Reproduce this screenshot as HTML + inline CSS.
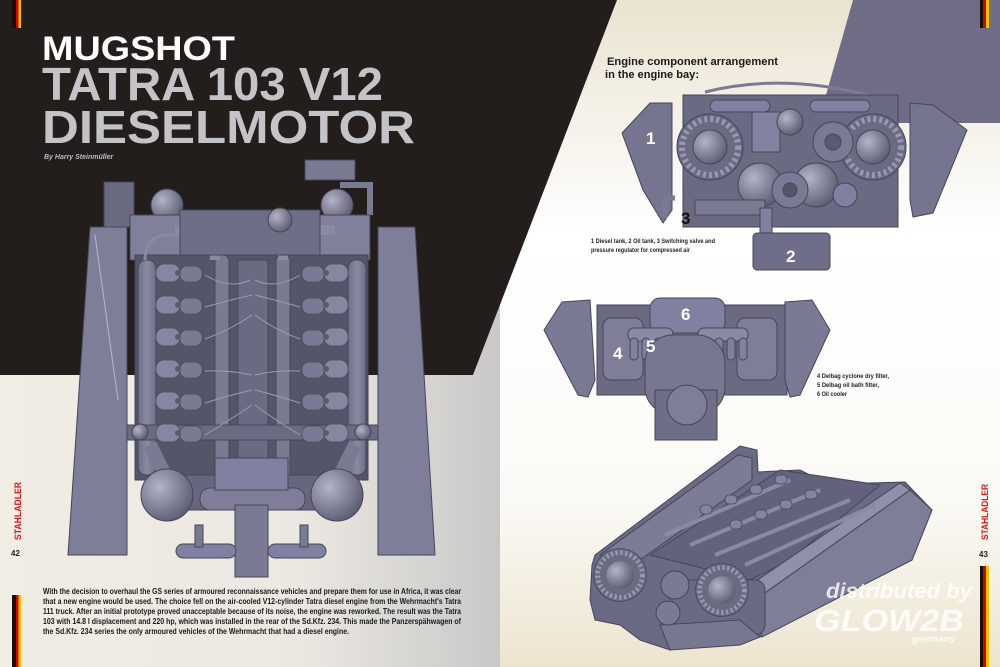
<!DOCTYPE html>
<html><head><meta charset="utf-8"><style>
html,body{margin:0;padding:0;width:1000px;height:667px;overflow:hidden;background:#fff}
svg{display:block}
text{font-family:"Liberation Sans",sans-serif}
</style></head><body>
<svg width="1000" height="667" viewBox="0 0 1000 667" xmlns="http://www.w3.org/2000/svg">
<defs>
<linearGradient id="lp" x1="0" y1="0" x2="1" y2="0">
<stop offset="0" stop-color="#f1ede4"/><stop offset="0.6" stop-color="#ebe8e2"/><stop offset="1" stop-color="#c9c8c6"/></linearGradient>
<linearGradient id="rp" x1="0" y1="0" x2="0" y2="1">
<stop offset="0" stop-color="#ebe3d0"/><stop offset="0.2" stop-color="#f6f3ec"/><stop offset="0.35" stop-color="#ffffff"/><stop offset="0.75" stop-color="#fbfaf6"/><stop offset="1" stop-color="#ede4cf"/></linearGradient>
<radialGradient id="sph" cx="0.35" cy="0.35" r="0.7"><stop offset="0" stop-color="#b4b4c8"/><stop offset="1" stop-color="#5c5c72"/></radialGradient>
<linearGradient id="eng" x1="0" y1="0" x2="1" y2="0"><stop offset="0" stop-color="#6e6e86"/><stop offset="0.5" stop-color="#8a8aa2"/><stop offset="1" stop-color="#6e6e86"/></linearGradient>
<g id="cyl"><rect x="0" y="0" width="24" height="18" rx="8" fill="#8686a0" stroke="#4c4c60" stroke-width="0.8"/><rect x="24" y="2" width="22" height="16" rx="7" fill="#7a7a94" stroke="#4c4c60" stroke-width="0.8"/><circle cx="22" cy="9" r="3" fill="#5a5a70"/></g>
<g id="fan"><circle r="33" fill="#6a6a82" stroke="#44445a" stroke-width="1"/><circle r="28" fill="none" stroke="#9898b0" stroke-width="6" stroke-dasharray="3 3"/><circle r="17" fill="url(#sph)"/></g>
</defs>

<rect x="0" y="0" width="500" height="667" fill="url(#lp)"/>
<rect x="500" y="0" width="500" height="667" fill="url(#rp)"/>
<polygon points="0,0 617,0 473,375 0,375" fill="#231d1b"/>
<polygon points="853,0 1000,0 1000,123 818,123" fill="#6f6d86"/>

<rect x="12" y="0" width="4" height="28" fill="#111"/><rect x="16" y="0" width="2.5" height="28" fill="#d00"/><rect x="18.5" y="0" width="2.5" height="28" fill="#f2c400"/>
<rect x="12" y="595" width="4" height="72" fill="#111"/><rect x="16" y="595" width="2.5" height="72" fill="#d00"/><rect x="18.5" y="595" width="2.5" height="72" fill="#f2c400"/>
<rect x="980" y="0" width="3" height="28" fill="#111"/><rect x="983" y="0" width="3" height="28" fill="#d00"/><rect x="986" y="0" width="3" height="28" fill="#f2c400"/>
<rect x="980" y="566" width="3" height="101" fill="#111"/><rect x="983" y="566" width="3" height="101" fill="#d00"/><rect x="986" y="566" width="3" height="101" fill="#f2c400"/>

<text transform="translate(21,540) rotate(-90)" font-size="9" font-weight="bold" fill="#d81818" textLength="58" lengthAdjust="spacingAndGlyphs">STAHLADLER</text>
<text x="11" y="556" font-size="8" font-weight="bold" fill="#222">42</text>
<text transform="translate(988,540) rotate(-90)" font-size="9" font-weight="bold" fill="#d81818" textLength="56" lengthAdjust="spacingAndGlyphs">STAHLADLER</text>
<text x="979" y="557" font-size="8" font-weight="bold" fill="#222">43</text>

<text x="42" y="60" font-size="34" font-weight="bold" fill="#fff" textLength="193" lengthAdjust="spacingAndGlyphs">MUGSHOT</text>
<text x="42" y="100" font-size="46" font-weight="bold" fill="#c4c4c8" textLength="341" lengthAdjust="spacingAndGlyphs">TATRA 103 V12</text>
<text x="42" y="143" font-size="46" font-weight="bold" fill="#c4c4c8" textLength="373" lengthAdjust="spacingAndGlyphs">DIESELMOTOR</text>
<text x="44" y="159" font-size="7" font-style="italic" font-weight="bold" fill="#bbb">By Harry Steinmüller</text>

<g stroke="#45455a" stroke-width="1">
<rect x="104" y="182" width="30" height="45" fill="#6a6a80"/>
<rect x="305" y="160" width="50" height="20" fill="#7a7a92"/>
<path d="M340 185 h30 v30" fill="none" stroke="#7a7a92" stroke-width="6"/>
<circle cx="167" cy="205" r="16" fill="url(#sph)"/>
<circle cx="337" cy="205" r="16" fill="url(#sph)"/>
<rect x="130" y="215" width="240" height="45" fill="#80809a"/>
<rect x="135" y="255" width="233" height="225" fill="#55556a"/>
<polygon points="90,227 127,227 127,555 68,555" fill="#7e7e98"/>
<polygon points="378,227 415,227 435,555 378,555" fill="#7e7e98"/>
<line x1="95" y1="235" x2="118" y2="400" stroke="#b8b8cc" stroke-width="1"/>
<rect x="138" y="260" width="18" height="215" rx="8" fill="url(#eng)"/>
<rect x="348" y="260" width="18" height="215" rx="8" fill="url(#eng)"/>
<rect x="215" y="255" width="14" height="225" rx="6" fill="#7a7a92"/>
<rect x="276" y="255" width="14" height="225" rx="6" fill="#7a7a92"/>
<rect x="238" y="260" width="30" height="215" fill="#6a6a82"/>
<path d="M145 260 q0 -25 25 -25 h40" fill="none" stroke="#8a8aa2" stroke-width="3"/>
<path d="M215 260 q0 -30 -40 -30" fill="none" stroke="#8a8aa2" stroke-width="10"/>
<path d="M283 260 q0 -30 40 -30 h12" fill="none" stroke="#8a8aa2" stroke-width="10"/>
<rect x="180" y="210" width="140" height="45" fill="#6e6e86"/>
<circle cx="280" cy="220" r="12" fill="url(#sph)"/>
<rect x="127" y="425" width="251" height="15" fill="#6a6a82"/>
<circle cx="140" cy="432" r="8" fill="url(#sph)"/><circle cx="363" cy="432" r="8" fill="url(#sph)"/>
<rect x="150" y="475" width="205" height="35" fill="#66667e"/>
<path d="M150 445 l20 40" stroke="#7a7a92" stroke-width="14"/>
<path d="M355 445 l-20 40" stroke="#7a7a92" stroke-width="14"/>
<circle cx="167" cy="495" r="26" fill="url(#sph)"/>
<circle cx="337" cy="495" r="26" fill="url(#sph)"/>
<rect x="200" y="488" width="105" height="22" rx="10" fill="#7e7e98"/>
<rect x="215" y="458" width="73" height="32" fill="#8080a0"/>
<rect x="235" y="505" width="33" height="72" fill="#7a7a94"/>
<rect x="176" y="544" width="60" height="14" rx="7" fill="#8080a0"/>
<rect x="268" y="544" width="58" height="14" rx="7" fill="#8080a0"/>
<rect x="195" y="525" width="8" height="22" fill="#7a7a92"/><rect x="300" y="525" width="8" height="22" fill="#7a7a92"/>
</g>
<g>
<use href="#cyl" x="156" y="264"/><use href="#cyl" x="156" y="296"/><use href="#cyl" x="156" y="328"/><use href="#cyl" x="156" y="360"/><use href="#cyl" x="156" y="392"/><use href="#cyl" x="156" y="424"/>
<use href="#cyl" transform="translate(348,0) scale(-1,1)" x="0" y="264"/><use href="#cyl" transform="translate(348,0) scale(-1,1)" x="0" y="296"/><use href="#cyl" transform="translate(348,0) scale(-1,1)" x="0" y="328"/><use href="#cyl" transform="translate(348,0) scale(-1,1)" x="0" y="360"/><use href="#cyl" transform="translate(348,0) scale(-1,1)" x="0" y="392"/><use href="#cyl" transform="translate(348,0) scale(-1,1)" x="0" y="424"/>
</g>
<g fill="none" stroke="#9a9ab2" stroke-width="1">
<path d="M205 275 Q230 290 250 280"/><path d="M205 307 Q230 300 252 295"/><path d="M205 339 Q230 330 252 315"/><path d="M205 371 Q230 370 252 375"/><path d="M205 403 Q230 395 252 390"/><path d="M205 435 Q230 420 252 405"/>
<path d="M300 275 Q275 290 255 280"/><path d="M300 307 Q275 300 255 295"/><path d="M300 339 Q275 330 255 315"/><path d="M300 371 Q275 370 255 375"/><path d="M300 403 Q275 395 255 390"/><path d="M300 435 Q275 420 255 405"/>
</g>

<g font-size="8.6" font-weight="bold" fill="#1a1a1a">
<text x="43" y="594" textLength="418" lengthAdjust="spacingAndGlyphs">With the decision to overhaul the GS series of armoured reconnaissance vehicles and prepare them for use in Africa, it was clear</text>
<text x="43" y="604" textLength="418" lengthAdjust="spacingAndGlyphs">that a new engine would be used. The choice fell on the air-cooled V12-cylinder Tatra diesel engine from the Wehrmacht's Tatra</text>
<text x="43" y="614" textLength="418" lengthAdjust="spacingAndGlyphs">111 truck. After an initial prototype proved unacceptable because of its noise, the engine was reworked. The result was the Tatra</text>
<text x="43" y="624" textLength="418" lengthAdjust="spacingAndGlyphs">103 with 14.8 l displacement and 220 hp, which was installed in the rear of the Sd.Kfz. 234. This made the Panzerspähwagen of</text>
<text x="43" y="634" textLength="306" lengthAdjust="spacingAndGlyphs">the Sd.Kfz. 234 series the only armoured vehicles of the Wehrmacht that had a diesel engine.</text>
</g>

<text x="607" y="65" font-size="11" font-weight="bold" fill="#1a1a1a" textLength="171" lengthAdjust="spacingAndGlyphs">Engine component arrangement</text>
<text x="605" y="78" font-size="11" font-weight="bold" fill="#1a1a1a" textLength="94" lengthAdjust="spacingAndGlyphs">in the engine bay:</text>

<g stroke="#45455a" stroke-width="1">
<path d="M705 92 q80 -20 170 5" fill="none" stroke="#7a7a92" stroke-width="3"/>
<rect x="683" y="95" width="215" height="132" fill="#6a6a82"/>
<rect x="710" y="100" width="60" height="12" rx="6" fill="#8080a0"/>
<rect x="810" y="100" width="60" height="12" rx="6" fill="#8080a0"/>
<polygon points="650,103 672,103 672,210 663,223 643,190 622,133" fill="#75758f"/>
<polygon points="910,103 933,105 967,130 933,213 913,217 910,200" fill="#75758f"/>
<use href="#fan" x="710" y="147"/>
<use href="#fan" x="873" y="147"/>
<rect x="752" y="112" width="28" height="40" fill="#8282a0"/>
<circle cx="790" cy="122" r="13" fill="url(#sph)"/>
<circle cx="833" cy="142" r="20" fill="#7a7a94"/><circle cx="833" cy="142" r="8" fill="#5a5a70"/>
<circle cx="760" cy="185" r="22" fill="url(#sph)"/>
<circle cx="816" cy="185" r="22" fill="url(#sph)"/>
<circle cx="790" cy="190" r="18" fill="#7a7a94"/><circle cx="790" cy="190" r="7" fill="#55556a"/>
<circle cx="845" cy="195" r="12" fill="#8080a0"/>
<rect x="695" y="200" width="70" height="15" fill="#7a7a92"/>
<path d="M675 198 h-10 v20" fill="none" stroke="#7a7a92" stroke-width="5"/>
<rect x="760" y="208" width="12" height="26" fill="#8080a0"/>
<rect x="753" y="233" width="77" height="37" rx="4" fill="#6e6e88"/>
</g>
<g font-size="17" font-weight="bold" fill="#fff">
<text x="646" y="144">1</text><text x="786" y="262">2</text>
</g>
<text x="681" y="224" font-size="17" font-weight="bold" fill="#111">3</text>
<g font-size="6.4" font-weight="bold" fill="#222">
<text x="591" y="243" textLength="124" lengthAdjust="spacingAndGlyphs">1 Diesel tank, 2 Oil tank, 3 Switching valve and</text>
<text x="591" y="252" textLength="99" lengthAdjust="spacingAndGlyphs">pressure regulator for compressed air</text>
</g>

<g stroke="#45455a" stroke-width="1">
<rect x="597" y="305" width="190" height="90" fill="#6a6a82"/>
<polygon points="562,302 590,300 595,380 588,397 578,395 544,330" fill="#7a7a94"/>
<polygon points="785,302 812,300 830,330 800,395 790,397 785,380" fill="#7a7a94"/>
<rect x="650" y="298" width="75" height="35" rx="10" fill="#8080a0"/>
<rect x="603" y="318" width="40" height="62" rx="8" fill="#7e7e98"/>
<rect x="737" y="318" width="40" height="62" rx="8" fill="#7e7e98"/>
<rect x="628" y="328" width="45" height="13" rx="6" fill="#8a8aa4"/>
<rect x="698" y="328" width="50" height="13" rx="6" fill="#8a8aa4"/>
<g fill="#8080a0"><rect x="630" y="338" width="8" height="22" rx="4"/><rect x="642" y="338" width="8" height="22" rx="4"/><rect x="654" y="338" width="8" height="22" rx="4"/><rect x="715" y="338" width="8" height="22" rx="4"/><rect x="727" y="338" width="8" height="22" rx="4"/><rect x="739" y="338" width="8" height="22" rx="4"/></g>
<rect x="645" y="335" width="80" height="80" rx="28" fill="#77778f"/>
<rect x="655" y="390" width="62" height="50" fill="#6e6e88"/>
<circle cx="687" cy="405" r="20" fill="#7e7e98"/>
</g>
<g font-size="17" font-weight="bold" fill="#fff">
<text x="681" y="320">6</text><text x="613" y="359">4</text><text x="646" y="352">5</text>
</g>
<g font-size="6.4" font-weight="bold" fill="#222">
<text x="817" y="378" textLength="72" lengthAdjust="spacingAndGlyphs">4 Delbag cyclone dry filter,</text>
<text x="817" y="387" textLength="62" lengthAdjust="spacingAndGlyphs">5 Delbag oil bath filter,</text>
<text x="817" y="396" textLength="30" lengthAdjust="spacingAndGlyphs">6 Oil cooler</text>
</g>

<g stroke="#45455a" stroke-width="1">
<polygon points="592,565 595,555 740,446 757,450 758,472 800,470 830,485 870,483 905,482 932,510 912,560 760,637 740,627 670,650 640,640 620,625 595,620 590,600" fill="#6a6a84"/>
<polygon points="600,555 738,455 752,458 752,480 640,560" fill="#7c7c96"/>
<polygon points="650,555 780,470 880,485 790,560 750,580" fill="#62627c"/>
<polygon points="755,600 910,490 932,510 912,560 762,637" fill="#7e7e98"/>
<polygon points="750,585 900,483 910,490 755,600" fill="#9090a8"/>
<rect x="670" y="580" width="95" height="55" rx="10" fill="#6a6a84"/>
<polygon points="660,625 740,620 760,637 740,645 670,650" fill="#77778f"/>
</g>
<g fill="none" stroke="#8a8aa4" stroke-width="4">
<path d="M665 535 L790 480"/><path d="M690 545 L820 490"/><path d="M715 555 L850 500"/><path d="M745 565 L875 505"/>
</g>
<g fill="#8484a0" stroke="#45455a" stroke-width="0.8">
<rect x="700" y="505" width="12" height="9" rx="4"/><rect x="725" y="495" width="12" height="9" rx="4"/><rect x="750" y="485" width="12" height="9" rx="4"/><rect x="775" y="475" width="12" height="9" rx="4"/>
<rect x="730" y="520" width="12" height="9" rx="4"/><rect x="755" y="510" width="12" height="9" rx="4"/><rect x="780" y="500" width="12" height="9" rx="4"/><rect x="805" y="490" width="12" height="9" rx="4"/>
</g>
<use href="#fan" transform="translate(620,575) scale(0.8)"/>
<use href="#fan" transform="translate(722,590) scale(0.8)"/>
<circle cx="675" cy="585" r="14" fill="#7a7a94" stroke="#45455a"/>
<circle cx="668" cy="613" r="12" fill="#7a7a94" stroke="#45455a"/>

<g fill="#ffffff" fill-opacity="0.8" font-style="italic" font-weight="bold">
<text x="826" y="598" font-size="21" textLength="146" lengthAdjust="spacingAndGlyphs">distributed by</text>
<text x="814" y="631" font-size="31" textLength="150" lengthAdjust="spacingAndGlyphs">GLOW2B</text>
<text x="912" y="642" font-size="9" textLength="44" lengthAdjust="spacingAndGlyphs">germany</text>
</g>
</svg>
</body></html>
